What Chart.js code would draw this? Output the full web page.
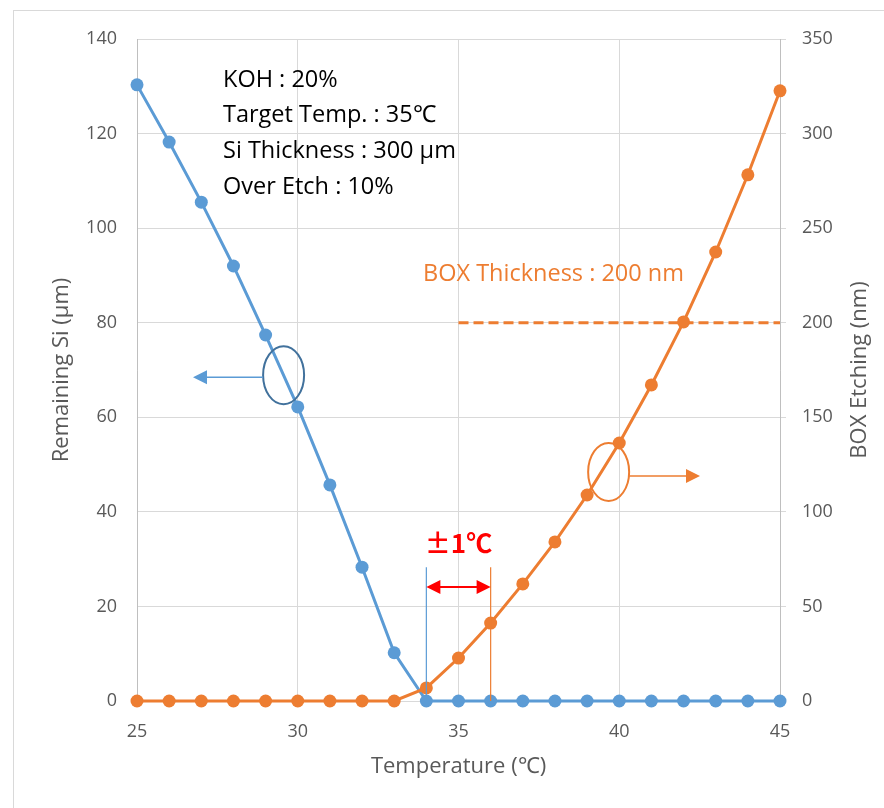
<!DOCTYPE html>
<html><head><meta charset="utf-8">
<script src="https://cdn.jsdelivr.net/npm/chart.js@4/dist/chart.umd.min.js"></script>
<style>html,body{margin:0;padding:0;background:#fff;}#wrap{width:884px;height:808px;position:relative;}</style>
</head><body><div id="wrap"><canvas id="c" width="884" height="808"></canvas></div>
<script>
const temperatures = [25,26,27,28,29,30,31,32,33,34,35,36,37,38,39,40,41,42,43,44,45];
const remainingSi = [130.3,118.2,105.5,92.0,77.4,62.2,45.7,28.3,10.2,0,0,0,0,0,0,0,0,0,0,0,0];
const boxEtching = [0,0,0,0,0,0,0,0,0,6.9,22.7,41.2,61.9,84.1,108.9,136.4,167.1,200.4,237.4,278.2,322.6];
const boxThicknessX = [35,45];
const boxThicknessY = [200,200];
const xTicks = [25,30,35,40,45];
const leftTicks = [0,20,40,60,80,100,120,140];
const rightTicks = [0,50,100,150,200,250,300,350];
const infoLines = ['KOH : 20%','Target Temp. : 35\u2103','Si Thickness : 300 \u03bcm','Over Etch : 10%'];
const boxLabel = 'BOX Thickness : 200 nm';
const tolLabel = '\u00b11\u2103';
const tolRange = [34,36];

const BLUE='#5B9BD5', ORANGE='#ED7D31', FONT='"Open Sans", sans-serif';

function arrowHead(ctx, x, y, dir, len, half, color){
  ctx.fillStyle=color; ctx.beginPath();
  ctx.moveTo(x,y); ctx.lineTo(x-dir*len,y-half); ctx.lineTo(x-dir*len,y+half); ctx.closePath(); ctx.fill();
}

const annot = {
  id:'annot',
  beforeDraw(chart){
    const ctx=chart.ctx; ctx.save();
    ctx.strokeStyle='#d9d9d9'; ctx.lineWidth=1;
    ctx.strokeRect(13.5,10.5,1000,1000);
    ctx.restore();
  },
  afterDraw(chart){
    const ctx=chart.ctx, x=chart.scales.x, y=chart.scales.y, y2=chart.scales.y2, a=chart.chartArea;
    ctx.save();
    // axis titles
    ctx.fillStyle='#595959'; ctx.font='22px '+FONT; ctx.textAlign='center'; ctx.textBaseline='middle';
    ctx.fillText('Temperature (\u2103)', (a.left+a.right)/2, 767);
    ctx.save(); ctx.translate(62,(a.top+a.bottom)/2); ctx.rotate(-Math.PI/2); ctx.fillText('Remaining Si (\u03bcm)',0,0); ctx.restore();
    ctx.save(); ctx.translate(860,(a.top+a.bottom)/2); ctx.rotate(-Math.PI/2); ctx.fillText('BOX Etching (nm)',0,0); ctx.restore();
    // info text
    ctx.fillStyle='#000'; ctx.textAlign='left'; ctx.font='23.5px '+FONT;
    infoLines.forEach((t,i)=>ctx.fillText(t, 223, 80+i*35.7));
    ctx.fillStyle=ORANGE; ctx.fillText(boxLabel, 423, 274);
    // tolerance
    const x1=x.getPixelForValue(tolRange[0]), x2=x.getPixelForValue(tolRange[1]);
    const yTop=y.getPixelForValue(28.3), yBot=y.getPixelForValue(0);
    ctx.lineWidth=1.2;
    ctx.strokeStyle=BLUE; ctx.beginPath(); ctx.moveTo(x1,yTop); ctx.lineTo(x1,yBot); ctx.stroke();
    ctx.strokeStyle=ORANGE; ctx.beginPath(); ctx.moveTo(x2,yTop); ctx.lineTo(x2,yBot); ctx.stroke();
    const ya=y.getPixelForValue(24.1);
    ctx.strokeStyle='#FF0000'; ctx.lineWidth=2; ctx.beginPath(); ctx.moveTo(x1+10,ya); ctx.lineTo(x2-10,ya); ctx.stroke();
    arrowHead(ctx,x1,ya,-1,14,7,'#FF0000'); arrowHead(ctx,x2,ya,1,14,7,'#FF0000');
    ctx.fillStyle='#FF0000'; ctx.font='bold 26px "Noto Sans CJK JP", sans-serif'; ctx.textAlign='center';
    ctx.fillText(tolLabel,(x1+x2)/2,543);
    // ellipse 1 (Si)
    let cx=x.getPixelForValue(29.56), cy=y.getPixelForValue(68.9);
    ctx.strokeStyle='#41719C'; ctx.lineWidth=2; ctx.beginPath(); ctx.ellipse(cx,cy,20.5,29,0,0,Math.PI*2); ctx.stroke();
    ctx.strokeStyle=BLUE; ctx.lineWidth=1.5; ctx.beginPath(); ctx.moveTo(cx-20.5,cy+2); ctx.lineTo(205,cy+2); ctx.stroke();
    arrowHead(ctx,193,cy+2,-1,14,7,BLUE);
    // ellipse 2 (BOX)
    cx=x.getPixelForValue(39.67); cy=y2.getPixelForValue(121.1);
    ctx.strokeStyle=ORANGE; ctx.lineWidth=2; ctx.beginPath(); ctx.ellipse(cx,cy,20.5,29,0,0,Math.PI*2); ctx.stroke();
    ctx.lineWidth=1.5; ctx.beginPath(); ctx.moveTo(cx+20.5,cy+4); ctx.lineTo(687,cy+4); ctx.stroke();
    arrowHead(ctx,700,cy+4,1,14,7,ORANGE);
    ctx.restore();
  }
};

const pts=(xs,ys)=>xs.map((v,i)=>({x:v,y:ys[i]}));

new Chart(document.getElementById('c'),{
  type:'line',
  data:{datasets:[
    {label:'BOX Thickness',data:pts(boxThicknessX,boxThicknessY),yAxisID:'y2',borderColor:ORANGE,borderWidth:3,borderDash:[10,5],pointRadius:0,order:3,clip:false},
    {label:'Remaining Si',data:pts(temperatures,remainingSi),yAxisID:'y',borderColor:BLUE,backgroundColor:BLUE,borderWidth:3,pointRadius:6.5,pointBorderWidth:0,order:2,clip:false},
    {label:'BOX Etching',data:pts(temperatures,boxEtching),yAxisID:'y2',borderColor:ORANGE,backgroundColor:ORANGE,borderWidth:3,pointRadius:6.5,pointBorderWidth:0,order:1,clip:false}
  ]},
  options:{
    responsive:false,animation:false,
    layout:{padding:{top:39,left:0,right:0,bottom:0}},
    plugins:{legend:{display:false},tooltip:{enabled:false}},
    scales:{
      x:{type:'linear',min:25,max:45,
        afterBuildTicks:s=>{s.ticks=xTicks.map(v=>({value:v}));},
        afterFit:s=>{s.height=107;},
        grid:{color:'#d9d9d9',drawTicks:false},border:{color:'#d9d9d9'},
        ticks:{padding:20,color:'#595959',font:{family:'"Open Sans"',size:18}}},
      y:{position:'left',min:0,max:140,
        afterBuildTicks:s=>{s.ticks=leftTicks.map(v=>({value:v}));},
        afterFit:s=>{s.width=137;},
        grid:{color:'#d9d9d9',drawTicks:false},border:{color:'#bfbfbf'},
        ticks:{padding:20,color:'#595959',font:{family:'"Open Sans"',size:18}}},
      y2:{position:'right',min:0,max:350,
        afterBuildTicks:s=>{s.ticks=rightTicks.map(v=>({value:v}));},
        afterFit:s=>{s.width=104;},
        grid:{drawOnChartArea:false,color:'#d9d9d9',tickLength:6},border:{color:'#bfbfbf'},
        ticks:{padding:16,color:'#595959',font:{family:'"Open Sans"',size:18}}}
    }
  },
  plugins:[annot]
});
</script></body></html>
